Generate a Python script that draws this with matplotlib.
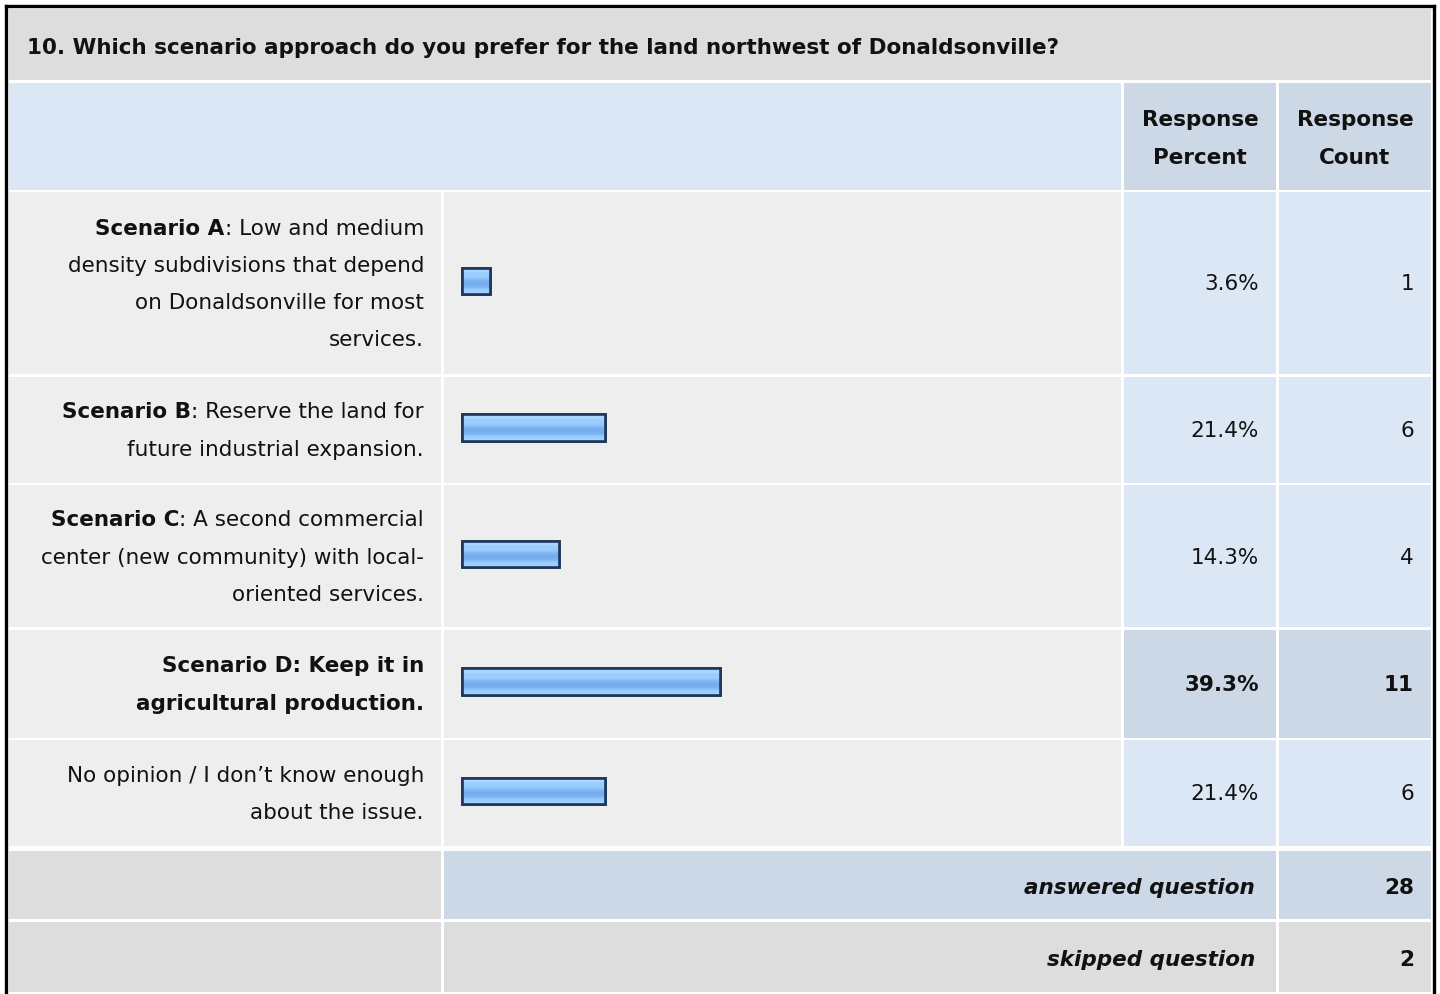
import numpy as np
import matplotlib.pyplot as plt
from matplotlib.patches import Rectangle
from matplotlib.colors import to_rgb

plt.rcParams['font.family'] = ['DejaVu Sans']

question = "10. Which scenario approach do you prefer for the land northwest of Donaldsonville?"
col_headers = [["Response", "Percent"], ["Response", "Count"]]
answer_lines = [
    ["Scenario A: Low and medium", "density subdivisions that depend",
     "on Donaldsonville for most", "services."],
    ["Scenario B: Reserve the land for", "future industrial expansion."],
    ["Scenario C: A second commercial", "center (new community) with local-",
     "oriented services."],
    ["Scenario D: Keep it in", "agricultural production."],
    ["No opinion / I don\u2019t know enough", "about the issue."],
]
bold_prefix = ["Scenario A", "Scenario B", "Scenario C", "", ""]
percents = [3.6, 21.4, 14.3, 39.3, 21.4]
counts = [1, 6, 4, 11, 6]
answered = 28
skipped = 2

# colours
GRAY = '#dddddd'
LIGHT = '#eeeeee'
BLUE = '#dce7f5'
BLUE_DK = '#ccd8e6'
INK = '#111111'
FS = 15.5

# column edges (pixels)
X_LABEL = (9, 441)
X_BAR = (444, 1121)
X_PCT = (1124, 1276)
X_CNT = (1279, 1431)
GAP = 2.5
LINE = 37.3
row_h = [182, 106, 142, 108, 106]

fig = plt.figure(figsize=(14.4, 9.94), dpi=100)
ax = fig.add_axes([0, 0, 1, 1])
ax.set_xlim(0, 1440)
ax.set_ylim(994, 0)
ax.axis('off')


def cell(xs, y0, y1, color):
    ax.add_patch(Rectangle((xs[0], y0), xs[1] - xs[0], y1 - y0,
                           facecolor=color, edgecolor='none', zorder=1))


def line_text(x, yc, s, **kw):
    return ax.text(x, yc + 7.5, s, fontsize=FS, color=INK, va='baseline', zorder=5, **kw)


# outer frame
ax.plot([6, 6], [994, 6], color='black', lw=2.4, solid_capstyle='projecting', zorder=6)
ax.plot([6, 1433.5], [6, 6], color='black', lw=2.4, solid_capstyle='projecting', zorder=6)
ax.plot([1433.5, 1433.5], [6, 994], color='black', lw=2.4, solid_capstyle='projecting', zorder=6)

# question title
cell((9, 1431), 9, 80, GRAY)
line_text(27, 46, question, fontweight='bold')

# column headers
cell((9, 1121), 83, 190, BLUE)
cell(X_PCT, 83, 190, BLUE_DK)
cell(X_CNT, 83, 190, BLUE_DK)
for xs, hdr in zip([X_PCT, X_CNT], col_headers):
    xc = (xs[0] + xs[1]) / 2
    for k, s in enumerate(hdr):
        line_text(xc, 119 + k * LINE, s, ha='center', fontweight='bold')

# gradient used to fill the bars
stripes = ['#c9e3ff', '#c9e3ff', '#acd5ff', '#acd5ff', '#9dcdff', '#9dcdff',
           '#99ccff', '#99ccff', '#93c7fd', '#8dc2fa', '#86bbf5', '#7db3f0',
           '#76adec', '#76adec', '#76adec', '#7ab1ef', '#84baf4', '#8ec3f9',
           '#97cbfe', '#9ccdff', '#a2d0ff', '#a6d2ff']
grad = np.array([[to_rgb(c)] for c in stripes])

best = int(np.argmax(counts))
scale = 645 / 100.0
y = 192
for i, lines in enumerate(answer_lines):
    y0, y1 = y, y + row_h[i]
    yc = (y0 + y1) / 2
    hi = i == best
    cell(X_LABEL, y0, y1, LIGHT)
    cell(X_BAR, y0, y1, LIGHT)
    cell(X_PCT, y0, y1, BLUE_DK if hi else BLUE)
    cell(X_CNT, y0, y1, BLUE_DK if hi else BLUE)

    # answer text, right aligned, first words bold
    first = yc - (len(lines) - 1) * LINE / 2
    for k, s in enumerate(lines):
        ly = first + k * LINE
        wt = 'bold' if hi else 'normal'
        pre = bold_prefix[i] if k == 0 else ""
        if pre and s.startswith(pre):
            t = line_text(424, ly, s[len(pre):], ha='right', fontweight=wt)
            ax.annotate(pre, xy=(0, 0), xycoords=t, ha='right', va='bottom',
                        fontsize=FS, color=INK, fontweight='bold', zorder=5)
        else:
            line_text(424, ly, s, ha='right', fontweight=wt)

    # bar
    w = 5 + percents[i] * scale
    bar = ax.barh(yc - 2, w, left=462, height=26.5, color='#99ccff',
                  edgecolor='#1d375c', linewidth=1.9, zorder=3)[0]
    bb = bar.get_bbox()
    im = ax.imshow(grad, extent=[bb.x0, bb.x1, bb.y1, bb.y0], aspect='auto',
                   interpolation='nearest', zorder=3.5)
    im.set_clip_path(bar)
    ax.barh(yc - 2, w, left=462, height=26.5, facecolor='none',
            edgecolor='#1d375c', linewidth=1.9, zorder=4)

    wt = 'bold' if hi else 'normal'
    line_text(1259, yc, f"{percents[i]:.1f}%", ha='right', fontweight=wt)
    line_text(1414, yc, str(counts[i]), ha='right', fontweight=wt)
    y = y1 + GAP

# summary rows
y0 = 851
cell(X_LABEL, y0, 919, GRAY)
cell((444, 1276), y0, 919, BLUE_DK)
cell(X_CNT, y0, 919, BLUE_DK)
line_text(1255, 887, "answered question", ha='right', fontweight='bold', style='italic')
line_text(1414, 887, str(answered), ha='right', fontweight='bold')

cell(X_LABEL, 922, 992, GRAY)
cell((444, 1276), 922, 992, GRAY)
cell(X_CNT, 922, 992, GRAY)
line_text(1255, 959, "skipped question", ha='right', fontweight='bold', style='italic')
line_text(1414, 959, str(skipped), ha='right', fontweight='bold')

fig.savefig('out.png', dpi=100, facecolor='white')
